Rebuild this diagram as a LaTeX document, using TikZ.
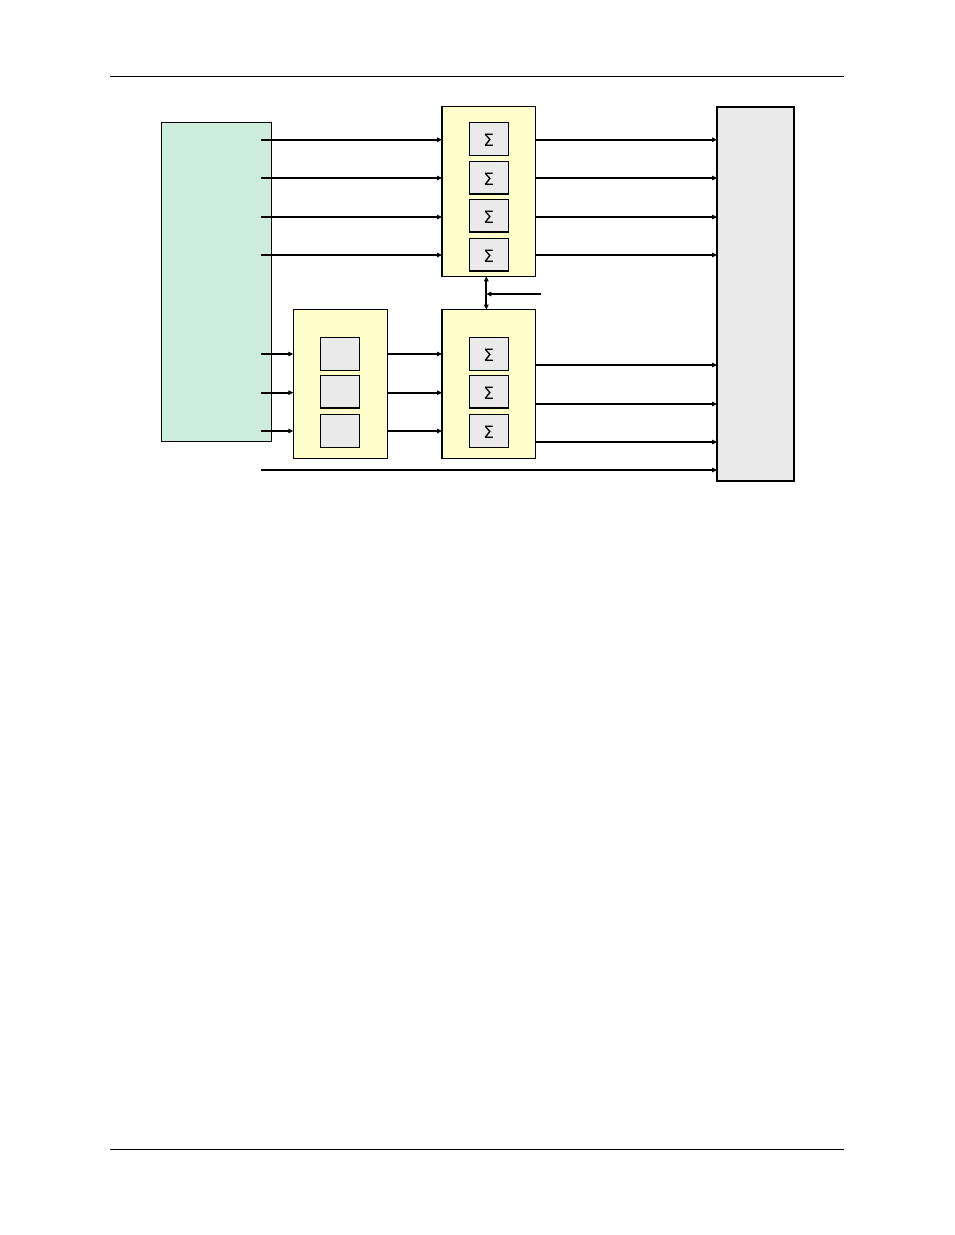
\documentclass[tikz,border=0pt]{standalone}
\usepackage{fontspec}
\setmainfont{DejaVu Sans}
\usetikzlibrary{arrows.meta}
\definecolor{greenfill}{RGB}{204,236,222}
\definecolor{yellowfill}{RGB}{255,255,204}
\definecolor{grayfill}{RGB}{234,234,234}
\begin{document}
\begin{tikzpicture}[x=1pt,y=-1pt,
  blockbox/.style={draw=black,line width=1.3pt,inner sep=0pt,outer sep=0pt},
  cellbox/.style={draw=black,line width=1.1pt,fill=grayfill,inner sep=0pt,outer sep=0pt},
  sigtext/.style={inner sep=0pt,font=\fontsize{17}{18}\selectfont},
  sig/.style={-{Triangle[length=5pt,width=4.5pt]},line width=1.8pt},
  rule/.style={line width=0.9pt}]
\useasboundingbox (0,0) rectangle (954,1235);
% header / footer rules
\coordinate (hl) at (110,76); \coordinate (hr) at (844,76);
\coordinate (fl) at (110,1149); \coordinate (fr) at (844,1149);
\draw[rule] (hl) -- (hr);
\draw[rule] (fl) -- (fr);
% main blocks
\draw[blockbox,line width=0.8pt,fill=greenfill] (161.5,122.5) rectangle (271.5,441);
\draw[blockbox,fill=yellowfill] (442,106.7) rectangle (535.7,276.3);
\draw[blockbox,fill=yellowfill] (442,309.7) rectangle (535.7,458.3);
\draw[blockbox,fill=yellowfill] (293.3,309.7) rectangle (387.3,458.3);
\draw[blockbox,line width=2pt,fill=grayfill] (717,106.7) rectangle (794,480.7);
% named anchors
\foreach \n/\y in {1/139.7,2/178,3/217,4/255}{
  \coordinate (gA\n) at (261,\y);
  \coordinate (tin\n) at (442,\y);
  \coordinate (tout\n) at (535.7,\y);
  \coordinate (rin\n) at (717,\y);
}
\foreach \n/\y in {1/354,2/392.7,3/431}{
  \coordinate (gB\n) at (261,\y);
  \coordinate (lin\n) at (293.3,\y);
  \coordinate (lout\n) at (387.3,\y);
  \coordinate (min\n) at (442,\y);
}
\foreach \n/\y in {1/365,2/404,3/442}{
  \coordinate (mout\n) at (535.7,\y);
  \coordinate (rinb\n) at (717,\y);
}
\coordinate (gC) at (261,470);
\coordinate (rinc) at (717,470);
\coordinate (tbot) at (486.3,276.3);
\coordinate (mtop) at (486.3,309.7);
\coordinate (ctl) at (541,294);
\coordinate (ctlend) at (486.3,294);
% sigma cells (top)
\foreach \n/\ya/\yb in {1/122.3/155.3,2/161.3/194,3/199.3/232,4/238.3/271}{
  \node[cellbox,minimum width=39pt,minimum height={\yb-\ya}] (ts\n) at (488.8,{(\ya+\yb)/2}) {};
  \node[sigtext] (tsl\n) at ([yshift=-1.5pt]ts\n.center) {Σ};
}
% sigma cells (middle) and blank cells (left)
\foreach \n/\ya/\yb in {1/337.3/370.3,2/375.3/408,3/414.3/447.3}{
  \node[cellbox,minimum width=39pt,minimum height={\yb-\ya}] (ms\n) at (488.8,{(\ya+\yb)/2}) {};
  \node[sigtext] (msl\n) at ([yshift=-1.5pt]ms\n.center) {Σ};
  \node[cellbox,minimum width=39.4pt,minimum height={\yb-\ya}] (lc\n) at (340,{(\ya+\yb)/2}) {};
}
% connectors
\foreach \n in {1,2,3,4}{
  \draw[sig] (gA\n) -- (tin\n);
  \draw[sig] (tout\n) -- (rin\n);
}
\foreach \n in {1,2,3}{
  \draw[sig] (gB\n) -- (lin\n);
  \draw[sig] (lout\n) -- (min\n);
  \draw[sig] (mout\n) -- (rinb\n);
}
\draw[sig] (gC) -- (rinc);
\draw[{Triangle[length=5pt,width=4.5pt]}-{Triangle[length=5pt,width=4.5pt]},line width=1.8pt] (tbot) -- (mtop);
\draw[sig] (ctl) -- (ctlend);
\end{tikzpicture}
\end{document}
